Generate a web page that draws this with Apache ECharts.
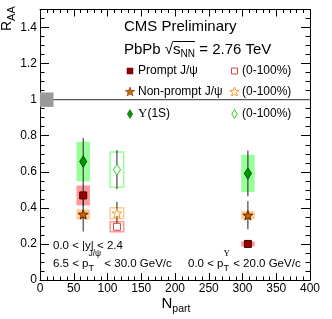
<!DOCTYPE html>
<html><head><meta charset="utf-8">
<script src="https://cdn.jsdelivr.net/npm/echarts@6/dist/echarts.min.js"></script>
<style>html,body{margin:0;padding:0;background:#fff}#c{width:332px;height:319px}</style>
</head><body><div id="c"></div>
<script>
// ---- data ----
const npartCentral = [64, 308];          // centrality bins
const npartMinBias = [114];              // 0-100%
const promptVal = [0.469, 0.200];
const promptStat = [0.060, 0.014];
const promptSyst = [0.055, 0.014];
const nonpromptVal = [0.364, 0.359];
const nonpromptStat = [0.095, 0.078];
const nonpromptSyst = [0.028, 0.023];
const upsVal = [0.657, 0.591];
const upsStat = [0.130, 0.127];
const upsSyst = [0.110, 0.103];
const promptMBVal = [0.295];
const promptMBStat = [0.020];
const promptMBSyst = [0.028];
const nonpromptMBVal = [0.370];
const nonpromptMBStat = [0.063];
const nonpromptMBSyst = [0.030];
const upsMBVal = [0.612];
const upsMBStat = [0.108];
const upsMBSyst = [0.098];
const globalUncX = [10];     // global uncertainty box drawn at R_AA = 1
const globalUncVal = [1.0];
const globalUncSize = [0.04];
const refLineX = [0, 400];
const refLineY = [1, 1];
const xTickStep = 50, xMinorStep = 10;
const yTickStep = 0.2, yMinorStep = 0.05;

const FONT = 'Liberation Sans';
const boxHalfWidth = 10;

const cv = document.createElement('canvas').getContext('2d');
function tw(t, size, fam) { cv.font = size + 'px "' + (fam || FONT) + '"'; return cv.measureText(t).width; }
function txt(x, y, t, size, fam, color) {
  return { type: 'text', x: x, y: y, z: 100, style: { text: t, font: size + 'px "' + (fam || FONT) + '"', fill: color || '#000', align: 'left', verticalAlign: 'middle', textAlign: 'left', textVerticalAlign: 'middle' } };
}
function runs(x, y, items, rot) {
  const els = []; let cx = 0;
  items.forEach(it => {
    if (it.stack) {
      let w = 0;
      it.stack.forEach(s => { els.push(txt(cx, s.dy, s.t, s.size, s.fam)); w = Math.max(w, tw(s.t, s.size, s.fam)); });
      cx += w;
    } else {
      els.push(txt(cx, it.dy || 0, it.t, it.size, it.fam));
      cx += tw(it.t, it.size, it.fam);
    }
  });
  return { type: 'group', x: x, y: y, rotation: rot || 0, children: els };
}
function starPts(cx, cy, R) {
  const p = [];
  for (let i = 0; i < 10; i++) {
    const r = i % 2 ? R * 0.42 : R;
    const a = -Math.PI / 2 + i * Math.PI / 5;
    p.push([cx + r * Math.cos(a), cy + r * Math.sin(a)]);
  }
  return p;
}
const STAR = 'path://M0,-10 L2.35,-3.24 L9.51,-3.09 L3.8,1.24 L5.88,8.09 L0,4.2 L-5.88,8.09 L-3.8,1.24 L-9.51,-3.09 L-2.35,-3.24 Z';

function boxSeries(xs, vals, halfs, style, z) {
  return {
    type: 'custom', z: z || 1, silent: true, clip: false,
    data: xs.map((x, i) => [x, vals[i], halfs[i], boxHalfWidth]),
    encode: { x: 0, y: 1 },
    renderItem: (params, api) => {
      const p1 = api.coord([api.value(0) - api.value(3), api.value(1) + api.value(2)]);
      const p2 = api.coord([api.value(0) + api.value(3), api.value(1) - api.value(2)]);
      return { type: 'rect', shape: { x: p1[0], y: p1[1], width: p2[0] - p1[0], height: p2[1] - p1[1] }, style: style };
    }
  };
}
function errSeries(xs, vals, errs) {
  return {
    type: 'custom', z: 2, silent: true,
    data: xs.map((x, i) => [x, vals[i], errs[i]]),
    encode: { x: 0, y: 1 },
    renderItem: (params, api) => {
      const a = api.coord([api.value(0), api.value(1) + api.value(2)]);
      const b = api.coord([api.value(0), api.value(1) - api.value(2)]);
      return { type: 'line', shape: { x1: a[0], y1: a[1], x2: b[0], y2: b[1] }, style: { stroke: '#222', lineWidth: 1 } };
    }
  };
}
function markSeries(xs, vals, symbol, size, fill, border) {
  return {
    type: 'scatter', z: 3, silent: true, symbol: symbol, symbolSize: size, symbolKeepAspect: true,
    data: xs.map((x, i) => [x, vals[i]]),
    itemStyle: { color: fill, borderColor: border, borderWidth: 1, opacity: 1 }
  };
}

const axisCommon = { type: 'value', splitLine: { show: false }, axisLine: { show: true, onZero: false, lineStyle: { color: '#000', width: 1 } } };

const option = {
  animation: false,
  backgroundColor: '#fff',
  grid: { left: 40, right: 22, top: 9.5, bottom: 39 },
  xAxis: [
    Object.assign({}, axisCommon, { position: 'bottom', min: 0, max: 400, interval: xTickStep,
      axisTick: { inside: true, length: 7, lineStyle: { color: '#000' } },
      minorTick: { show: true, splitNumber: xTickStep / xMinorStep, length: 3.5, lineStyle: { color: '#000' } },
      axisLabel: { color: '#000', fontSize: 12, fontFamily: FONT, margin: 3 } }),
    Object.assign({}, axisCommon, { position: 'top', min: 0, max: 400, interval: xTickStep,
      axisTick: { inside: true, length: 7, lineStyle: { color: '#000' } },
      minorTick: { show: true, splitNumber: xTickStep / xMinorStep, length: 3.5, lineStyle: { color: '#000' } },
      axisLabel: { show: false } })
  ],
  yAxis: [
    Object.assign({}, axisCommon, { position: 'left', min: 0, max: 1.5, interval: yTickStep,
      axisTick: { inside: true, length: 9, lineStyle: { color: '#000' } },
      axisLabel: { color: '#000', fontSize: 12, fontFamily: FONT, margin: 3, showMaxLabel: false } }),
    Object.assign({}, axisCommon, { position: 'left', min: 0, max: 1.5, interval: yMinorStep,
      axisTick: { inside: true, length: 4.5, lineStyle: { color: '#000' } }, axisLabel: { show: false } }),
    Object.assign({}, axisCommon, { position: 'right', min: 0, max: 1.5, interval: yTickStep,
      axisTick: { inside: true, length: 9, lineStyle: { color: '#000' } }, axisLabel: { show: false } }),
    Object.assign({}, axisCommon, { position: 'right', min: 0, max: 1.5, interval: yMinorStep,
      axisTick: { inside: true, length: 4.5, lineStyle: { color: '#000' } }, axisLabel: { show: false } })
  ],
  series: [
    { type: 'line', z: 1, silent: true, symbol: 'none', data: refLineX.map((x, i) => [x, refLineY[i]]), lineStyle: { color: '#555', width: 1.2 } },
    boxSeries(globalUncX, globalUncVal, globalUncSize, { fill: '#999999' }, 2),
    boxSeries(npartCentral, promptVal, promptSyst, { fill: '#ff9999' }),
    boxSeries(npartCentral, nonpromptVal, nonpromptSyst, { fill: '#ffcc99' }),
    boxSeries(npartCentral, upsVal, upsSyst, { fill: '#99ff99' }),
    boxSeries(npartMinBias, promptMBVal, promptMBSyst, { fill: 'none', stroke: '#ff9999', lineWidth: 1.5 }),
    boxSeries(npartMinBias, nonpromptMBVal, nonpromptMBSyst, { fill: 'none', stroke: '#ffcc99', lineWidth: 1.5 }),
    boxSeries(npartMinBias, upsMBVal, upsMBSyst, { fill: 'none', stroke: '#99ff99', lineWidth: 1.5 }),
    errSeries(npartCentral, promptVal, promptStat),
    errSeries(npartCentral, nonpromptVal, nonpromptStat),
    errSeries(npartCentral, upsVal, upsStat),
    errSeries(npartMinBias, promptMBVal, promptMBStat),
    errSeries(npartMinBias, nonpromptMBVal, nonpromptMBStat),
    errSeries(npartMinBias, upsMBVal, upsMBStat),
    markSeries(npartCentral, promptVal, 'rect', 7, '#990000', '#4a0000'),
    markSeries(npartCentral, nonpromptVal, STAR, 10, '#cc6600', '#5a2a00'),
    markSeries(npartCentral, upsVal, 'diamond', [7, 11], '#009900', '#005500'),
    markSeries(npartMinBias, promptMBVal, 'rect', 7, '#ffffff', '#dd4444'),
    markSeries(npartMinBias, nonpromptMBVal, STAR, 10, '#ffffff', '#ff9933'),
    markSeries(npartMinBias, upsMBVal, 'diamond', [7, 11], '#ffffff', '#33cc33')
  ],
  graphic: []
};

// header texts
const g = option.graphic;
g.push(txt(124, 27, 'CMS Preliminary', 15));
g.push(runs(124, 50, [{ t: 'PbPb \u221A', size: 15 }, { t: 's', size: 15 }, { t: 'NN', size: 10, dy: 4 }, { t: ' = 2.76 TeV', size: 15 }]));
{
  const x1 = 124 + tw('PbPb \u221A', 15) - 0.5;
  const x2 = 124 + tw('PbPb \u221As', 15) + tw('NN', 10);
  g.push({ type: 'line', z: 100, shape: { x1: x1, y1: 41.5, x2: x2, y2: 41.5 }, style: { stroke: '#000', lineWidth: 1 } });
}
// legend
const rowY = [71, 91.5, 114];
g.push({ type: 'rect', z: 100, shape: { x: 127, y: rowY[0] - 3, width: 6, height: 6 }, style: { fill: '#990000', stroke: '#4a0000', lineWidth: 0.5 } });
g.push({ type: 'polygon', z: 100, shape: { points: starPts(130, rowY[1] + 0.5, 5) }, style: { fill: '#cc6600', stroke: '#5a2a00', lineWidth: 0.5 } });
g.push({ type: 'polygon', z: 100, shape: { points: [[130, rowY[2] - 4.5], [132.7, rowY[2]], [130, rowY[2] + 4.5], [127.3, rowY[2]]] }, style: { fill: '#009900', stroke: '#005500', lineWidth: 0.5 } });
g.push(txt(138, rowY[0], 'Prompt J/\u03C8', 12));
g.push(txt(138, rowY[1], 'Non-prompt J/\u03C8', 12));
g.push(runs(138, rowY[2], [{ t: '\u03A5', size: 13, fam: 'Liberation Serif' }, { t: '(1S)', size: 12 }]));
g.push({ type: 'rect', z: 100, shape: { x: 231.5, y: rowY[0] - 3, width: 6, height: 6 }, style: { fill: '#fff', stroke: '#dd4444', lineWidth: 1 } });
g.push({ type: 'polygon', z: 100, shape: { points: starPts(234.5, rowY[1] + 0.5, 5) }, style: { fill: '#fff', stroke: '#ff9933', lineWidth: 1 } });
g.push({ type: 'polygon', z: 100, shape: { points: [[234.5, rowY[2] - 4.5], [237.2, rowY[2]], [234.5, rowY[2] + 4.5], [231.8, rowY[2]]] }, style: { fill: '#fff', stroke: '#33cc33', lineWidth: 1 } });
rowY.forEach(y => g.push(txt(242, y, '(0-100%)', 12)));
// kinematic cuts
g.push(txt(53, 245.5, '0.0 < |y| < 2.4', 11.5));
g.push(runs(53, 263.5, [{ t: '6.5 < p', size: 11.5 }, { stack: [{ t: 'T', size: 9, dy: 5 }, { t: 'J/\u03C8', size: 8.5, dy: -10 }] }, { t: ' < 30.0 GeV/c', size: 11.5 }]));
g.push(runs(188, 263.5, [{ t: '0.0 < p', size: 11.5 }, { stack: [{ t: 'T', size: 9, dy: 5 }, { t: '\u03A5', size: 9, dy: -10, fam: 'Liberation Serif' }] }, { t: ' < 20.0 GeV/c', size: 11.5 }]));
// axis titles
g.push(runs(161.5, 304, [{ t: 'N', size: 15 }, { t: 'part', size: 10.5, dy: 5 }]));
g.push(runs(7.5, 31, [{ t: 'R', size: 14 }, { t: 'AA', size: 11, dy: 4 }], Math.PI / 2));

const chart = echarts.init(document.getElementById('c'), null, { renderer: 'canvas', width: 332, height: 319 });
chart.setOption(option);
</script>
</body></html>
